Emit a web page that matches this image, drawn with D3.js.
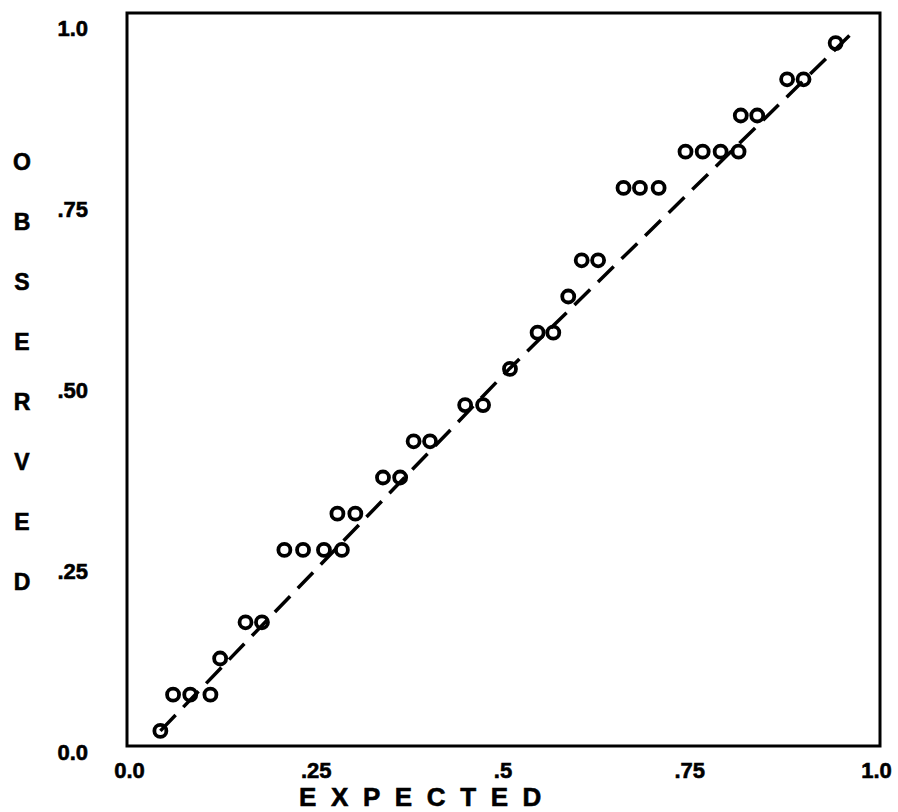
<!DOCTYPE html>
<html>
<head>
<meta charset="utf-8">
<script src="https://cdn.jsdelivr.net/npm/d3@7"></script>
<style>
body { margin:0; background:#fff; }
svg { display:block; font-family:"Liberation Sans", Arial, Helvetica, sans-serif; font-weight:bold; }
</style>
</head>
<body>
<script>

// data
var expected = [0.042, 0.059, 0.082, 0.109, 0.122, 0.156, 0.178,
                0.208, 0.233, 0.261, 0.285, 0.279, 0.303, 0.340, 0.363,
                0.381, 0.403, 0.450, 0.474, 0.510, 0.547, 0.568, 0.588,
                0.606, 0.628, 0.662, 0.684, 0.709, 0.745, 0.768, 0.792,
                0.816, 0.819, 0.841, 0.881, 0.903, 0.946];
var observed = [0.03, 0.08, 0.08, 0.08, 0.13, 0.18, 0.18,
                0.28, 0.28, 0.28, 0.28, 0.33, 0.33, 0.38, 0.38,
                0.43, 0.43, 0.48, 0.48, 0.53, 0.58, 0.58, 0.63,
                0.68, 0.68, 0.78, 0.78, 0.78, 0.83, 0.83, 0.83,
                0.83, 0.88, 0.88, 0.93, 0.93, 0.98];
var lineExpected = [0.042, 0.510, 0.972];
var lineObserved = [0.030, 0.531, 0.998];
var xTicks = [0, 0.25, 0.5, 0.75, 1];
var xTickLabels = ['0.0', '.25', '.5', '.75', '1.0'];
var yTicks = [0, 0.25, 0.5, 0.75, 1];
var yTickLabels = ['0.0', '.25', '.50', '.75', '1.0'];
var xTitle = 'EXPECTED';
var yTitle = 'OBSERVED';

var canvasWidth = 898;
var canvasHeight = 812;
var colorBlack = '#000';

var svg = d3.select('body').append('svg')
            .attr('width',canvasWidth)
            .attr('height',canvasHeight);

var x = d3.scaleLinear().domain([0,1]).range([129,876]);
var y = d3.scaleLinear().domain([0,1]).range([752.6,28.6]);

// frame
svg.append('rect')
   .attr('x',127)
   .attr('y',13)
   .attr('width',753)
   .attr('height',733)
   .attr('fill','none')
   .attr('stroke',colorBlack)
   .attr('stroke-width',3);

// axes (labels only)
var yAxis = svg.append('g')
               .attr('transform','translate(90,0)')
               .call(d3.axisLeft(y)
                       .tickValues(yTicks)
                       .tickFormat(function(d,i){ return yTickLabels[i]; })
                       .tickSize(0)
                       .tickPadding(2));
yAxis.select('.domain').remove();
yAxis.selectAll('text')
     .attr('fill',colorBlack)
     .attr('stroke',colorBlack)
     .attr('stroke-width',0.6)
     .style('font-size','22px')
     .style('font-weight','bold')
     .style('font-family','"Liberation Sans", Arial, sans-serif');

var xAxis = svg.append('g')
               .attr('transform','translate(0,762)')
               .call(d3.axisBottom(x)
                       .tickValues(xTicks)
                       .tickFormat(function(d,i){ return xTickLabels[i]; })
                       .tickSize(0)
                       .tickPadding(0));
xAxis.select('.domain').remove();
xAxis.selectAll('text')
     .attr('fill',colorBlack)
     .attr('stroke',colorBlack)
     .attr('stroke-width',0.6)
     .style('font-size','22px')
     .style('font-weight','bold')
     .style('font-family','"Liberation Sans", Arial, sans-serif');

// titles
svg.append('text')
   .text(xTitle)
   .attr('x',299)
   .attr('y',806)
   .attr('stroke',colorBlack)
   .attr('stroke-width',0.6)
   .style('font-size','26px')
   .style('letter-spacing','14.6px');

var yTitleText = svg.append('text')
                    .attr('text-anchor','middle')
                    .attr('stroke',colorBlack)
                    .attr('stroke-width',0.6)
                    .style('font-size','23px');
yTitleText.selectAll('tspan')
          .data(yTitle.split(''))
          .enter()
          .append('tspan')
          .attr('x',22)
          .attr('y',function(d,i){ return 170 + i*60; })
          .text(function(d){ return d; });

// dashed reference line
var lineData = lineExpected.map(function(d,i){ return [d, lineObserved[i]]; });
svg.append('path')
   .datum(lineData)
   .attr('d',d3.line().x(function(d){ return x(d[0]); }).y(function(d){ return y(d[1]); }))
   .attr('fill','none')
   .attr('stroke',colorBlack)
   .attr('stroke-width',3.5)
   .attr('stroke-dasharray','22,11');

// points
svg.selectAll('circle.pt')
   .data(expected)
   .enter()
   .append('circle')
   .attr('class','pt')
   .attr('cx',function(d){ return x(d); })
   .attr('cy',function(d,i){ return y(observed[i]); })
   .attr('r',6)
   .attr('fill','none')
   .attr('stroke',colorBlack)
   .attr('stroke-width',3.8);

</script>
</body>
</html>
